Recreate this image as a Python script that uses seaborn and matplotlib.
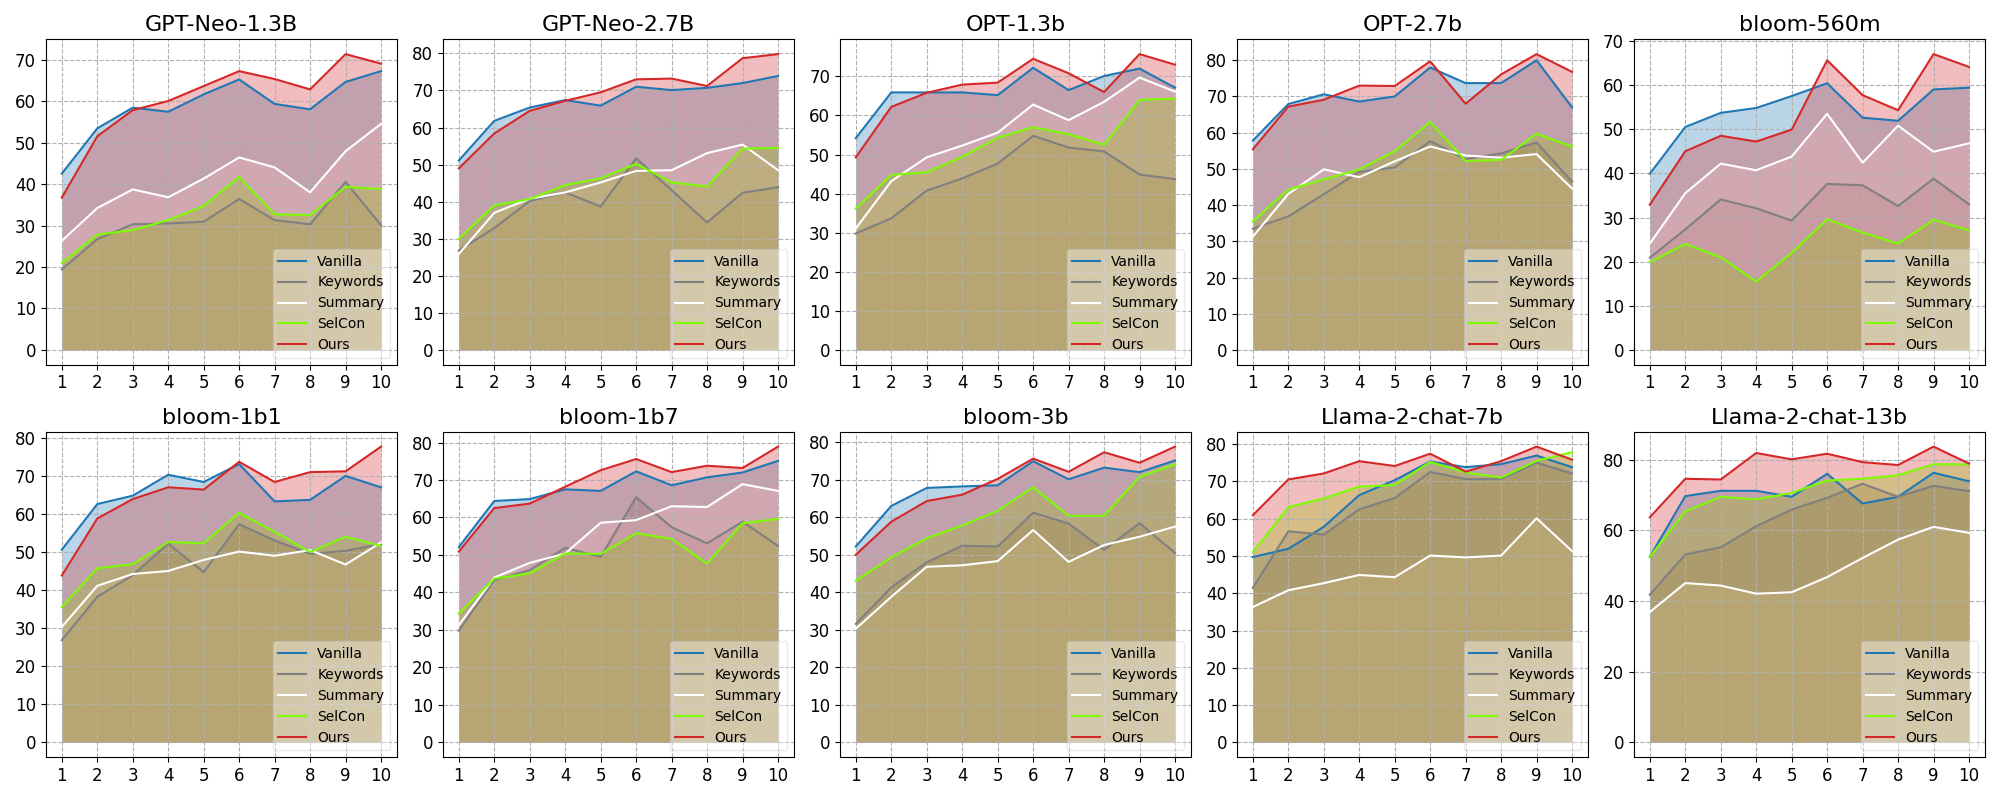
import numpy as np
import pandas as pd
import matplotlib
matplotlib.use("Agg")
import matplotlib.pyplot as plt
import seaborn as sns

steps = list(range(1, 11))
methods = ["Vanilla", "Keywords", "Summary", "SelCon", "Ours"]
colors = ["#1f77b4", "gray", "white", "lawngreen", "#d62728"]

models = ["GPT-Neo-1.3B", "GPT-Neo-2.7B", "OPT-1.3b", "OPT-2.7b", "bloom-560m",
          "bloom-1b1", "bloom-1b7", "bloom-3b", "Llama-2-chat-7b", "Llama-2-chat-13b"]

gptneo13_vanilla = [42.5, 53.4, 58.4, 57.4, 61.6, 65.2, 59.3, 58.0, 64.6, 67.2]
gptneo13_keywords = [19.4, 26.7, 30.3, 30.5, 30.9, 36.4, 31.3, 30.3, 40.5, 30.1]
gptneo13_summary = [26.3, 34.2, 38.7, 36.8, 41.3, 46.4, 44.0, 38.0, 47.9, 54.5]
gptneo13_selcon = [21.0, 27.8, 28.9, 31.3, 34.7, 41.7, 32.7, 32.5, 39.3, 38.8]
gptneo13_ours = [36.7, 51.5, 57.8, 60.0, 63.6, 67.2, 65.3, 62.8, 71.3, 69.0]

gptneo27_vanilla = [51.1, 61.8, 65.4, 67.4, 65.9, 71.0, 70.1, 70.7, 72.0, 73.9]
gptneo27_keywords = [26.8, 32.9, 40.2, 42.5, 38.7, 51.7, 43.1, 34.4, 42.4, 43.9]
gptneo27_summary = [25.9, 37.0, 40.8, 42.5, 45.2, 48.3, 48.5, 53.1, 55.4, 48.5]
gptneo27_selcon = [30.0, 39.0, 40.7, 44.5, 46.3, 50.2, 45.2, 44.1, 54.3, 54.5]
gptneo27_ours = [49.0, 58.4, 64.5, 67.2, 69.5, 73.0, 73.2, 71.2, 78.7, 79.8]

opt13_vanilla = [54.2, 65.9, 65.9, 65.9, 65.2, 72.2, 66.5, 70.1, 72.0, 67.1]
opt13_keywords = [29.8, 33.7, 40.8, 43.9, 47.7, 54.8, 51.8, 50.8, 44.9, 43.7]
opt13_summary = [31.1, 43.2, 49.3, 52.3, 55.6, 62.8, 58.8, 63.5, 69.7, 66.1]
opt13_selcon = [36.2, 44.8, 45.5, 49.4, 54.3, 57.0, 55.2, 52.5, 64.0, 64.3]
opt13_ours = [49.3, 62.2, 65.8, 67.9, 68.4, 74.5, 70.8, 66.0, 75.7, 73.0]

opt27_vanilla = [57.8, 67.9, 70.6, 68.6, 70.0, 78.0, 73.7, 73.7, 80.0, 67.0]
opt27_keywords = [33.5, 36.9, 43.0, 49.2, 50.4, 57.7, 52.7, 54.3, 57.3, 46.5]
opt27_summary = [31.3, 43.1, 49.9, 47.7, 52.1, 56.2, 53.7, 53.1, 54.1, 44.6]
opt27_selcon = [35.5, 44.3, 47.1, 49.9, 54.9, 63.0, 52.2, 52.5, 59.7, 56.2]
opt27_ours = [55.4, 67.2, 69.1, 73.0, 72.9, 79.7, 68.0, 76.1, 81.7, 76.8]

bloom560_vanilla = [39.9, 50.5, 53.7, 54.8, 57.5, 60.4, 52.6, 51.9, 59.0, 59.4]
bloom560_keywords = [20.9, 27.3, 34.1, 32.1, 29.3, 37.6, 37.3, 32.6, 38.8, 33.0]
bloom560_summary = [24.1, 35.5, 42.2, 40.7, 43.8, 53.5, 42.4, 50.8, 44.9, 46.8]
bloom560_selcon = [19.9, 24.0, 21.0, 15.5, 22.0, 29.6, 26.6, 24.1, 29.5, 27.1]
bloom560_ours = [32.9, 45.0, 48.5, 47.2, 49.9, 65.6, 57.7, 54.3, 67.0, 64.1]

bloom1b1_vanilla = [50.7, 62.7, 64.9, 70.4, 68.5, 73.2, 63.4, 63.8, 70.1, 67.1]
bloom1b1_keywords = [26.9, 38.3, 44.0, 52.3, 44.8, 57.4, 53.1, 49.6, 50.4, 52.2]
bloom1b1_summary = [30.4, 41.2, 44.3, 45.1, 48.0, 50.2, 49.1, 50.6, 46.8, 52.6]
bloom1b1_selcon = [35.6, 45.8, 46.9, 52.7, 52.4, 60.4, 55.4, 50.1, 54.1, 51.7]
bloom1b1_ours = [43.9, 58.9, 64.0, 67.1, 66.5, 73.8, 68.5, 71.1, 71.3, 77.8]

bloom1b7_vanilla = [52.1, 64.4, 64.9, 67.5, 67.1, 72.3, 68.6, 70.7, 72.0, 75.1]
bloom1b7_keywords = [29.8, 43.3, 46.0, 51.9, 49.5, 65.4, 57.4, 53.1, 58.9, 52.4]
bloom1b7_summary = [31.3, 44.0, 47.9, 50.4, 58.6, 59.3, 63.0, 62.8, 68.9, 67.1]
bloom1b7_selcon = [34.4, 43.7, 45.1, 50.4, 50.3, 55.8, 54.3, 47.7, 58.5, 59.6]
bloom1b7_ours = [50.9, 62.5, 63.7, 68.2, 72.6, 75.6, 72.1, 73.8, 73.2, 78.9]

bloom3b_vanilla = [52.2, 63.0, 67.8, 68.2, 68.5, 74.9, 70.1, 73.2, 72.0, 75.1]
bloom3b_keywords = [31.6, 41.3, 48.0, 52.4, 52.2, 61.2, 58.3, 51.3, 58.4, 50.5]
bloom3b_summary = [30.3, 38.8, 46.8, 47.2, 48.3, 56.6, 48.1, 52.6, 54.8, 57.5]
bloom3b_selcon = [43.1, 49.3, 54.4, 57.8, 61.7, 68.0, 60.4, 60.4, 70.8, 74.1]
bloom3b_ours = [50.0, 58.8, 64.3, 66.0, 70.2, 75.6, 72.1, 77.3, 74.5, 78.8]

llama7_vanilla = [49.7, 51.9, 57.8, 66.3, 70.3, 75.3, 73.8, 74.6, 76.9, 73.8]
llama7_keywords = [41.4, 56.6, 55.7, 62.5, 65.5, 72.5, 70.6, 70.6, 75.0, 72.1]
llama7_summary = [36.3, 40.8, 42.7, 44.9, 44.3, 50.1, 49.6, 50.1, 60.1, 51.3]
llama7_selcon = [51.0, 63.1, 65.4, 68.6, 69.0, 75.2, 72.4, 71.0, 75.5, 77.8]
llama7_ours = [60.9, 70.5, 72.1, 75.4, 74.1, 77.4, 72.6, 75.4, 79.3, 75.8]

llama13_vanilla = [52.5, 69.7, 71.2, 71.2, 69.5, 76.0, 67.6, 69.5, 76.3, 73.9]
llama13_keywords = [41.8, 53.2, 55.2, 61.2, 65.9, 69.2, 73.2, 69.5, 72.6, 71.1]
llama13_summary = [36.9, 45.1, 44.4, 42.1, 42.5, 46.8, 52.2, 57.4, 61.0, 59.3]
llama13_selcon = [52.5, 65.4, 69.5, 68.8, 70.6, 74.1, 74.6, 75.6, 78.7, 78.7]
llama13_ours = [63.7, 74.6, 74.4, 81.9, 80.1, 81.7, 79.3, 78.5, 83.7, 78.9]

series = [
    [gptneo13_vanilla, gptneo13_keywords, gptneo13_summary, gptneo13_selcon, gptneo13_ours],
    [gptneo27_vanilla, gptneo27_keywords, gptneo27_summary, gptneo27_selcon, gptneo27_ours],
    [opt13_vanilla, opt13_keywords, opt13_summary, opt13_selcon, opt13_ours],
    [opt27_vanilla, opt27_keywords, opt27_summary, opt27_selcon, opt27_ours],
    [bloom560_vanilla, bloom560_keywords, bloom560_summary, bloom560_selcon, bloom560_ours],
    [bloom1b1_vanilla, bloom1b1_keywords, bloom1b1_summary, bloom1b1_selcon, bloom1b1_ours],
    [bloom1b7_vanilla, bloom1b7_keywords, bloom1b7_summary, bloom1b7_selcon, bloom1b7_ours],
    [bloom3b_vanilla, bloom3b_keywords, bloom3b_summary, bloom3b_selcon, bloom3b_ours],
    [llama7_vanilla, llama7_keywords, llama7_summary, llama7_selcon, llama7_ours],
    [llama13_vanilla, llama13_keywords, llama13_summary, llama13_selcon, llama13_ours],
]

plt.rcParams['font.family'] = ['DejaVu Sans']
fig, axes = plt.subplots(2, 5, figsize=(20, 8), dpi=100)
for ax, model, vals in zip(axes.flat, models, series):
    for name, c, y in zip(methods, colors, vals):
        df = pd.DataFrame({"step": steps, "score": y})
        sns.lineplot(data=df, x="step", y="score", ax=ax, color=c, label=name, linewidth=1.5)
        ax.fill_between(df["step"], df["score"], color=c, alpha=0.3, linewidth=0)
    ax.set_title(model, fontsize=16)
    ax.set_xticks(steps)
    ax.tick_params(labelsize=12)
    ax.set_xlabel("")
    ax.set_ylabel("")
    ax.grid(True, linestyle="--")
    ax.legend(loc="lower right", fontsize=10, framealpha=0.4)

fig.tight_layout()
fig.savefig("out.png", dpi=100)
